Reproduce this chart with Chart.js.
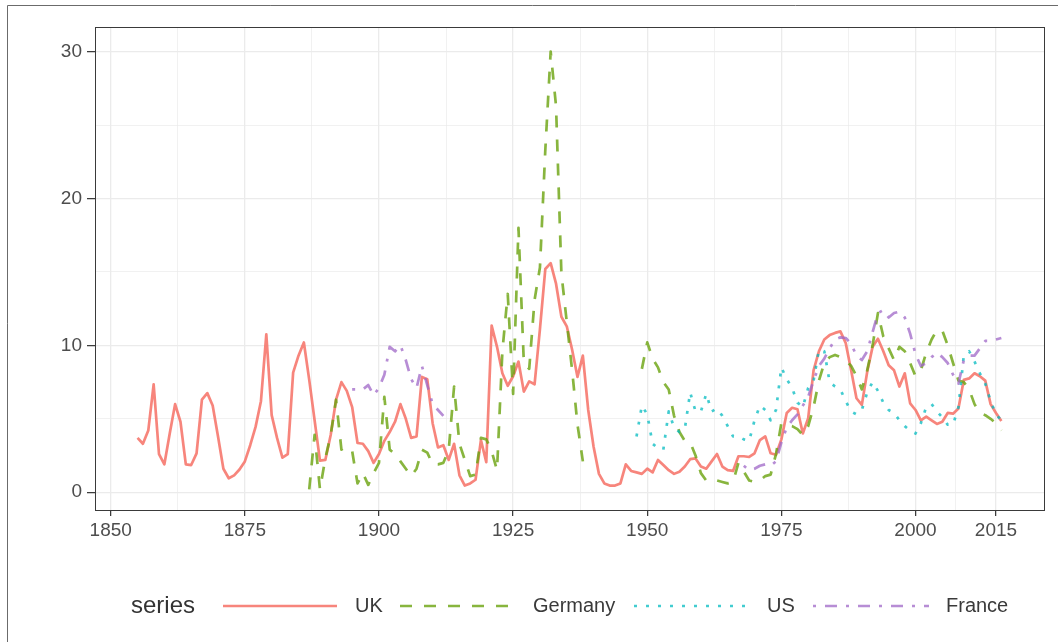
<!DOCTYPE html>
<html><head><meta charset="utf-8">
<script src="https://cdn.jsdelivr.net/npm/chart.js@4.4.0/dist/chart.umd.min.js"></script>
<style>html,body{margin:0;padding:0;background:#fff;}#wrap{position:relative;width:1058px;height:642px;}canvas{display:block;}</style>
</head><body><div id="wrap"><canvas id="c" width="1058" height="642"></canvas></div>
<script>
// ---- data ----
const seriesNames = ['UK', 'Germany', 'US', 'France'];
const legendTitle = 'series';

const ukStart = 1855;
const ukValues = [
  3.7, 3.3, 4.2, 7.35, 2.6,                                  // 1855-1859
  1.9, 4.0, 6.0, 4.8, 1.9, 1.85, 2.65, 6.3, 6.75, 5.9,       // 1860s
  3.8, 1.6, 0.95, 1.15, 1.55, 2.1, 3.2, 4.45, 6.2, 10.75,    // 1870s
  5.25, 3.7, 2.35, 2.6, 8.15, 9.3, 10.2, 7.65, 4.9, 2.15,    // 1880s
  2.2, 3.9, 6.3, 7.5, 6.9, 5.8, 3.35, 3.3, 2.8, 2.0,         // 1890s
  2.6, 3.5, 4.1, 4.8, 6.0, 5.0, 3.7, 3.8, 7.85, 7.7,         // 1900s
  4.7, 3.05, 3.2, 2.2, 3.3, 1.15, 0.45, 0.6, 0.85, 3.55,     // 1910s
  2.05, 11.35, 9.9, 8.1, 7.25, 7.9, 8.9, 6.85, 7.55, 7.35,   // 1920s
  11.1, 15.2, 15.6, 14.2, 11.95, 11.3, 9.7, 7.85, 9.3, 5.6,  // 1930s
  3.1, 1.25, 0.6, 0.45, 0.45, 0.6, 1.9, 1.45, 1.35, 1.25,    // 1940s
  1.6, 1.35, 2.2, 1.85, 1.5, 1.25, 1.4, 1.75, 2.25, 2.3,     // 1950s
  1.75, 1.6, 2.1, 2.6, 1.75, 1.5, 1.45, 2.45, 2.45, 2.4,     // 1960s
  2.65, 3.55, 3.8, 2.65, 2.55, 3.6, 5.4, 5.75, 5.65, 4.0,    // 1970s
  5.05, 8.3, 9.6, 10.4, 10.7, 10.85, 10.95, 10.15, 8.3, 6.4, // 1980s
  5.95, 8.2, 9.9, 10.45, 9.6, 8.65, 8.3, 7.2, 8.1, 6.05,     // 1990s
  5.6, 4.9, 5.15, 4.9, 4.65, 4.8, 5.4, 5.35, 5.7, 7.65,      // 2000s
  7.75, 8.1, 7.9, 7.6, 6.0, 5.4, 4.85                        // 2010-2016
];

const germanyStartA = 1887;
const germanyValuesA = [
  0.2, 3.9, 0.2,                                             // 1887-1889
  2.3, 3.9, 6.3, 2.9, 3.1, 2.8, 0.6, 1.3, 0.5, 1.3,          // 1890s
  2.0, 6.5, 2.9, 2.6, 2.1, 1.6, 1.1, 1.6, 2.9, 2.7,          // 1900s
  1.9, 1.9, 2.0, 2.9, 7.2, 3.3, 2.2, 1.1, 1.2, 3.7,          // 1910s
  3.6, 2.8, 1.5, 9.6, 13.5, 6.7, 18.0, 8.8, 8.4, 13.1,       // 1920s
  15.3, 23.3, 30.0, 26.3, 14.9, 11.6, 8.3, 4.6, 2.1          // 1930-1938
];
const germanyStartB = 1949;
const germanyValuesB = [
  8.4,                                                       // 1949
  10.2, 9.1, 8.5, 7.5, 7.0, 5.2, 4.1, 3.5, 3.4, 2.5,         // 1950s
  1.3, 0.8, 0.7, 0.8, 0.7, 0.6, 0.7, 2.0, 1.4, 0.8,          // 1960s
  0.7, 0.8, 1.1, 1.2, 2.6, 4.7, 4.6, 4.5, 4.3, 3.9,          // 1970s
  4.5, 5.8, 7.6, 8.8, 9.2, 9.35, 9.2, 9.0, 8.6, 7.9,         // 1980s
  7.0, 8.3, 10.0, 12.2, 10.6, 9.8, 9.0, 9.9, 9.6, 8.8,       // 1990s
  7.9, 8.3, 9.5, 10.4, 11.05, 11.0, 10.0, 8.8, 7.6, 7.5,     // 2000s
  7.0, 6.0, 5.4, 5.25, 5.0, 4.7, 4.2                         // 2010-2016
];

const usStart = 1948;
const usValues = [
  3.8, 5.9,                                                  // 1948-1949
  5.3, 3.3, 3.0, 2.9, 5.5, 4.4, 4.1, 4.3, 6.8, 5.5,          // 1950s
  5.5, 6.7, 5.5, 5.7, 5.2, 4.5, 3.8, 3.8, 3.6, 3.5,          // 1960s
  4.9, 5.9, 5.6, 4.9, 5.6, 8.5, 7.7, 7.1, 6.1, 5.8,          // 1970s
  7.1, 7.6, 9.7, 9.6, 7.5, 7.2, 7.0, 6.2, 5.5, 5.3,          // 1980s
  5.6, 6.8, 7.5, 6.9, 6.1, 5.6, 5.4, 4.9, 4.5, 4.2,          // 1990s
  4.0, 4.7, 5.8, 6.0, 5.5, 5.1, 4.6, 4.6, 5.8, 9.3,          // 2000s
  9.6, 8.9, 8.1, 7.4, 6.2, 5.3, 4.9                          // 2010-2016
];

const franceStartA = 1895;
const franceValuesA = [
  7.0, 7.0, 7.0, 7.3, 6.6,                                   // 1895-1899
  7.1, 8.0, 9.9, 9.6, 10.0, 9.0, 7.7, 7.1, 8.6, 7.3,         // 1900s
  6.0, 5.6, 5.2                                              // 1910-1912
];
const franceStartB = 1968;
const franceValuesB = [
  1.8, 1.5,                                                  // 1968-1969
  1.6, 1.8, 1.9, 1.8, 2.1, 3.4, 4.4, 4.9, 5.3, 5.9,          // 1970s
  6.5, 7.6, 8.6, 9.1, 9.8, 10.4, 10.55, 10.5, 10.1, 9.3,     // 1980s
  9.0, 9.6, 10.9, 12.2, 12.4, 11.9, 12.2, 12.3, 11.9, 10.8,  // 1990s
  9.4, 8.6, 8.8, 9.2, 9.5, 9.2, 8.8, 8.0, 7.4, 9.0,          // 2000s
  9.3, 9.3, 9.8, 10.3, 10.3, 10.4, 10.5                      // 2010-2016
];

const xMajorTicks = [1850, 1875, 1900, 1925, 1950, 1975, 2000, 2015];
const xMinorTicks = [1862.5, 1887.5, 1912.5, 1937.5, 1962.5, 1987.5, 2007.5];
const yMajorTicks = [0, 10, 20, 30];
const yMinorTicks = [5, 15, 25];

// ---- build ----
function toPoints(start, values) { return values.map((v, i) => ({ x: start + i, y: v })); }
const ukData = toPoints(ukStart, ukValues);
const germanyData = toPoints(germanyStartA, germanyValuesA)
  .concat([{ x: germanyStartA + germanyValuesA.length, y: null }])
  .concat(toPoints(germanyStartB, germanyValuesB));
const usData = toPoints(usStart, usValues);
const franceData = toPoints(franceStartA, franceValuesA)
  .concat([{ x: franceStartA + franceValuesA.length, y: null }])
  .concat(toPoints(franceStartB, franceValuesB));

const FONT = "'Liberation Sans', Arial, Helvetica, sans-serif";
const styles = [
  { color: 'rgba(246,116,106,0.88)', dash: [] },
  { color: 'rgba(110,165,20,0.82)', dash: [12, 12] },
  { color: 'rgba(0,186,192,0.74)', dash: [3, 9] },
  { color: 'rgba(160,105,200,0.76)', dash: [3, 9, 12, 9] }
];
const LW = 2.7;
const allData = [ukData, germanyData, usData, franceData];

const datasets = allData.map((d, i) => ({
  label: seriesNames[i],
  data: d,
  borderColor: styles[i].color,
  backgroundColor: styles[i].color,
  borderWidth: LW,
  borderDash: styles[i].dash,
  borderCapStyle: 'butt',
  borderJoinStyle: 'round',
  pointRadius: 0,
  pointHoverRadius: 0,
  tension: 0,
  fill: false,
  spanGaps: false,
  order: 3 - i
}));

const frame = {
  id: 'frame',
  afterDatasetsDraw(chart) {
    const { ctx, chartArea: a } = chart;
    ctx.save();
    ctx.strokeStyle = '#3a3a3a';
    ctx.lineWidth = 1;
    ctx.setLineDash([]);
    ctx.strokeRect(a.left + 0.5, a.top + 0.5, a.right - a.left, a.bottom - a.top);
    ctx.restore();
  },
  afterDraw(chart) {
    const ctx = chart.ctx;
    ctx.save();
    // outer figure border
    ctx.strokeStyle = '#6b6b6b';
    ctx.lineWidth = 1;
    ctx.beginPath();
    ctx.moveTo(7.5, 642); ctx.lineTo(7.5, 5.5); ctx.lineTo(1058, 5.5);
    ctx.stroke();
    // legend
    const ly = 606;
    ctx.textBaseline = 'middle';
    ctx.textAlign = 'left';
    ctx.fillStyle = '#333333';
    ctx.font = '24px ' + FONT;
    ctx.fillText(legendTitle, 131, ly);
    const keys = [
      { x1: 223, x2: 337, tx: 355 },
      { x1: 400, x2: 513, tx: 533 },
      { x1: 634, x2: 749, tx: 767 },
      { x1: 813, x2: 929, tx: 946 }
    ];
    ctx.font = '20px ' + FONT;
    keys.forEach((k, i) => {
      ctx.strokeStyle = styles[i].color;
      ctx.lineWidth = LW;
      ctx.lineCap = 'butt';
      ctx.setLineDash(styles[i].dash);
      ctx.beginPath(); ctx.moveTo(k.x1, ly); ctx.lineTo(k.x2, ly); ctx.stroke();
      ctx.setLineDash([]);
      ctx.fillStyle = '#3a3a3a';
      ctx.fillText(seriesNames[i], k.tx, ly);
    });
    ctx.restore();
  }
};

const isIn = (arr, v) => arr.some(t => Math.abs(t - v) < 1e-6);

new Chart(document.getElementById('c'), {
  type: 'line',
  data: { datasets },
  plugins: [frame],
  options: {
    responsive: false,
    animation: false,
    devicePixelRatio: 1,
    events: [],
    layout: { padding: { left: 0, top: 27, right: 14, bottom: 92 } },
    plugins: { legend: { display: false }, tooltip: { enabled: false } },
    scales: {
      x: {
        type: 'linear',
        min: 1847.07,
        max: 2023.95,
        afterBuildTicks(s) {
          s.ticks = xMajorTicks.concat(xMinorTicks).sort((a, b) => a - b).map(v => ({ value: v }));
        },
        afterFit(s) { s.height = 40; },
        border: { display: false },
        grid: {
          color: '#EBEBEB',
          lineWidth: c => (c.tick && isIn(xMajorTicks, c.tick.value)) ? 1.3 : 0.7,
          tickLength: 6,
          tickColor: c => (c.tick && isIn(xMajorTicks, c.tick.value)) ? '#333333' : 'rgba(0,0,0,0)',
          tickWidth: 1.2
        },
        ticks: {
          autoSkip: false,
          maxRotation: 0,
          padding: 3,
          color: '#4D4D4D',
          font: { family: FONT, size: 19 },
          callback: v => isIn(xMajorTicks, v) ? String(v) : ''
        }
      },
      y: {
        type: 'linear',
        min: -1.21,
        max: 31.68,
        afterBuildTicks(s) {
          s.ticks = yMajorTicks.concat(yMinorTicks).sort((a, b) => a - b).map(v => ({ value: v }));
        },
        afterFit(s) { s.width = 95; },
        border: { display: false },
        grid: {
          color: '#EBEBEB',
          lineWidth: c => (c.tick && isIn(yMajorTicks, c.tick.value)) ? 1.3 : 0.7,
          tickLength: 8,
          tickColor: c => (c.tick && isIn(yMajorTicks, c.tick.value)) ? '#333333' : 'rgba(0,0,0,0)',
          tickWidth: 1.2
        },
        ticks: {
          autoSkip: false,
          padding: 5,
          color: '#4D4D4D',
          font: { family: FONT, size: 19 },
          callback: v => isIn(yMajorTicks, v) ? String(v) : ''
        }
      }
    }
  }
});
</script>
</body></html>
